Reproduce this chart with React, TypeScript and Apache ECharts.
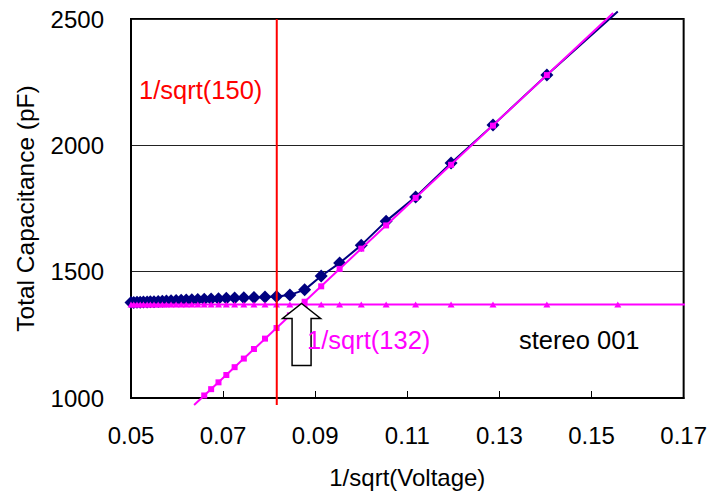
import React, { useEffect, useRef } from "react";
import * as echarts from "echarts";

// x = 1/sqrt(V) for each bias step, 400 V down to ~41 V
const invSqrtV = [
  0.05, 0.0506, 0.0513, 0.052, 0.0527, 0.0535, 0.0542, 0.055, 0.0559, 0.0568,
  0.0577, 0.0587, 0.0598, 0.0609, 0.062, 0.0632, 0.0645, 0.0659, 0.0674, 0.069,
  0.0707, 0.0725, 0.0745, 0.0767, 0.0791, 0.0816, 0.0845, 0.0877, 0.0913, 0.0953,
  0.1, 0.1054, 0.1118, 0.1195, 0.1286, 0.1403, 0.1557,
];

// measured total capacitance (pF)
const capMeasured = [
  1378, 1378, 1379, 1379, 1380, 1380, 1381, 1381, 1382, 1383,
  1384, 1385, 1386, 1387, 1388, 1389, 1390, 1391, 1392, 1393,
  1395, 1396, 1397, 1398, 1400, 1402, 1408, 1428, 1483, 1534,
  1605, 1700, 1796, 1930, 2080, 2278, 2530,
];

// linear fit of the depletion region evaluated at each step (pF)
const capFitRise = [
  738, 749, 760, 772, 784, 798, 810, 824, 839, 854,
  870, 887, 905, 924, 943, 964, 986, 1010, 1035, 1062,
  1091, 1122, 1156, 1194, 1235, 1277, 1327, 1381, 1442, 1511,
  1591, 1683, 1792, 1923, 2078, 2278, 2540,
];

// fully depleted plateau level (pF)
const plateauFit = 1370;

// trend line extents
const riseTrend = [
  [0.0637, 972],
  [0.1547, 2524],
];
const flatTrend = [
  [0.0491, plateauFit],
  [0.1717, plateauFit],
];

const xTicks = [0.05, 0.07, 0.09, 0.11, 0.13, 0.15, 0.17];

const markerVoltage = 150;
const depletionVoltage = 132;
const markerRange = [972, 2500];

const FONT = "'Liberation Sans', Arial, sans-serif";
const NAVY = "#000080";
const MAGENTA = "#FF00FF";
const RED = "#FF0000";

export default function App() {
  const ref = useRef<HTMLDivElement>(null);

  useEffect(() => {
    if (!ref.current) return;
    const chart = echarts.init(ref.current, null, { renderer: "svg" });
    const xMarker = 1 / Math.sqrt(markerVoltage);
    const xDepl = 1 / Math.sqrt(depletionVoltage);

    const measured = invSqrtV.map((x, i) =>
      capMeasured[i] > 2500
        ? { value: [x, capMeasured[i]], symbol: "none" }
        : { value: [x, capMeasured[i]] }
    );

    chart.setOption({
      animation: false,
      textStyle: { fontFamily: FONT },
      grid: {
        left: 131,
        top: 19,
        right: 25,
        bottom: 96,
        show: true,
        borderColor: "#000",
        borderWidth: 2,
        backgroundColor: "#fff",
      },
      xAxis: {
        type: "value",
        min: 0.05,
        max: 0.17,
        name: "1/sqrt(Voltage)",
        nameLocation: "middle",
        nameGap: 67,
        nameTextStyle: { fontSize: 24, color: "#000", fontFamily: FONT },
        axisLine: { show: true, lineStyle: { color: "#000", width: 2 } },
        axisTick: {
          show: true,
          inside: true,
          length: 7,
          customValues: xTicks,
          lineStyle: { color: "#000", width: 1 },
        },
        axisLabel: {
          customValues: xTicks,
          formatter: (v: number) => v.toFixed(2),
          fontSize: 24,
          color: "#000",
          margin: 25,
          fontFamily: FONT,
        },
        splitLine: { show: false },
      },
      yAxis: {
        type: "value",
        min: 1000,
        max: 2500,
        interval: 500,
        name: "Total Capacitance (pF)",
        nameLocation: "middle",
        nameGap: 93,
        nameTextStyle: { fontSize: 24.5, color: "#000", fontFamily: FONT },
        axisLine: { show: true, lineStyle: { color: "#000", width: 2 } },
        axisTick: { show: false },
        axisLabel: {
          formatter: (v: number) => String(v),
          fontSize: 24,
          color: "#000",
          margin: 27,
          fontFamily: FONT,
        },
        splitLine: { show: true, lineStyle: { color: "#222", width: 1 } },
      },
      series: [
        {
          name: "measured",
          type: "line",
          data: measured,
          symbol: "diamond",
          symbolSize: 13,
          clip: false,
          itemStyle: { color: NAVY },
          lineStyle: { color: NAVY, width: 2 },
          z: 2,
        },
        {
          name: "fit",
          type: "line",
          data: invSqrtV.map((x, i) => [x, capFitRise[i]]),
          symbol: "rect",
          symbolSize: 6,
          clip: true,
          itemStyle: { color: MAGENTA },
          lineStyle: { width: 0, opacity: 0 },
          z: 4,
        },
        {
          name: "plateau",
          type: "line",
          data: invSqrtV.map((x) => [x, plateauFit]),
          symbol: "triangle",
          symbolSize: [7, 6],
          clip: true,
          itemStyle: { color: MAGENTA },
          lineStyle: { width: 0, opacity: 0 },
          z: 4,
        },
        {
          name: "rise trend",
          type: "line",
          data: riseTrend,
          symbol: "none",
          clip: false,
          lineStyle: { color: MAGENTA, width: 2 },
          z: 3,
        },
        {
          name: "plateau trend",
          type: "line",
          data: flatTrend,
          symbol: "none",
          clip: false,
          lineStyle: { color: MAGENTA, width: 2 },
          z: 3,
        },
        {
          name: "marker",
          type: "line",
          data: markerRange.map((c) => [xMarker, c]),
          symbol: "none",
          clip: false,
          lineStyle: { color: RED, width: 2 },
          z: 5,
        },
      ],
    });

    const [tx, ty] = chart.convertToPixel({ gridIndex: 0 }, [xDepl, plateauFit]) as number[];

    chart.setOption({
      graphic: [
        {
          type: "polygon",
          x: tx,
          y: ty - 1,
          z: 10,
          shape: {
            points: [
              [0, 0],
              [19, 15],
              [9.5, 15],
              [9.5, 62],
              [-9.5, 62],
              [-9.5, 15],
              [-19, 15],
            ],
          },
          style: { fill: "#fff", stroke: "#000", lineWidth: 1.5 },
        },
        {
          type: "text",
          left: 139,
          top: 77,
          z: 10,
          style: { text: "1/sqrt(" + markerVoltage + ")", fill: RED, font: `25.5px ${FONT}` },
        },
        {
          type: "text",
          left: 307,
          top: 327,
          z: 10,
          style: { text: "1/sqrt(" + depletionVoltage + ")", fill: MAGENTA, font: `25.5px ${FONT}` },
        },
        {
          type: "text",
          left: 519,
          top: 327,
          z: 10,
          style: { text: "stereo 001", fill: "#000", font: `25.5px ${FONT}` },
        },
      ],
    });

    return () => chart.dispose();
  }, []);

  return (
    <div
      ref={ref}
      style={{ position: "absolute", left: 0, top: 0, width: 710, height: 494, background: "#fff" }}
    />
  );
}
